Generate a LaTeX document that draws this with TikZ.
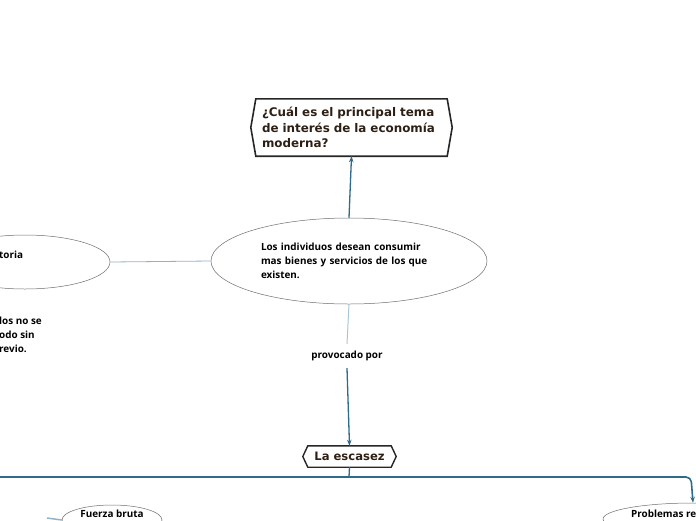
\documentclass[tikz,border=0pt]{standalone}
\usepackage{fontspec}
\usetikzlibrary{arrows.meta,shapes.geometric,calc}
\newfontfamily\headfont{DejaVu Sans}
\newfontfamily\bodyfont{Open Sans}
\definecolor{brownink}{HTML}{2E1F14}
\definecolor{linkblue}{HTML}{2E6A8A}
\definecolor{lightlink}{HTML}{8FB3CC}
\definecolor{fadelink}{HTML}{A9C6D6}
\definecolor{ellgray}{HTML}{6E6E6E}
\tikzset{
  x=1pt, y=-1pt,
  headbox/.style={inner xsep=6pt, inner ysep=3pt, align=left, text=brownink,
    font=\headfont\bfseries\fontsize{11.9}{15.5}\selectfont},
  hexline/.style={draw=black!85, line width=1.6pt, line join=miter},
  bubble/.style={ellipse, draw=ellgray, line width=0.5pt, fill=white, inner sep=0pt},
  bodytext/.style={font=\bodyfont\bfseries\fontsize{9.9}{14}\selectfont, text=black, align=left},
  mainlink/.style={draw=linkblue, line width=1.3pt},
  tip/.style={-{Stealth[length=6pt,width=4.5pt]}},
}
\begin{document}
\begin{tikzpicture}
\useasboundingbox (0,0) rectangle (696,520);
\clip (0,0) rectangle (696,520);
% top question box
\node[headbox, text width=179pt, minimum height=57pt] (q) at (351.5,127.5)
  {¿Cuál es el principal tema\\de interés de la economía\\moderna?};
\draw[hexline] (q.north west) -- (q.north east) -- ([xshift=5pt]q.east) -- (q.south east)
  -- (q.south west) -- ([xshift=-5pt]q.west) -- cycle;
% main ellipse
\node[bubble, minimum width=276pt, minimum height=86pt, bodytext, text width=176pt] (m) at (349,261)
  {Los individuos desean consumir\\mas bienes y servicios de los que\\existen.};
% left ellipse
\node[bubble, minimum width=170pt, minimum height=54pt] (l) at (25,262) {};
\node[bodytext, anchor=west, inner sep=0pt] (lt) at (-1,255) {toria};
% left text block
\node[bodytext, anchor=north west, inner sep=0pt, fill=white] (lb) at (-1,317)
  {los no se\\odo sin\\revio.};
% provocado por
\node[bodytext, fill=white, inner xsep=2pt, inner ysep=7pt] (p) at (347,356) {provocado por};
% la escasez
\node[headbox, font=\headfont\bfseries\fontsize{11.6}{13}\selectfont, minimum width=83pt, minimum height=21pt, inner ysep=1pt, align=center] (e) at (349.5,456.5) {La escasez};
\draw[hexline, line width=1.4pt] (e.north west) -- (e.north east) -- ([xshift=5pt]e.east) -- (e.south east)
  -- (e.south west) -- ([xshift=-5pt]e.west) -- cycle;
% bottom ellipses
\node[bubble, minimum width=100pt, minimum height=30pt] (f) at (112,520) {};
\node[bodytext, inner sep=0pt] (ft) at (112,514) {Fuerza bruta};
\node[bubble, minimum width=180pt, minimum height=32pt] (r) at (693,519) {};
\node[bodytext, anchor=west, inner sep=0pt] (rt) at (631,514) {Problemas re};
\coordinate (fl) at (47,518);
\coordinate (hl) at (-2,477);
\coordinate (hj) at (349,477);
% connectors
\draw[mainlink, tip] (m.north) -- (q.south);
\draw[draw=lightlink, line width=0.8pt] (m.west) -- (l.east);
\draw[draw=fadelink, line width=1pt] (m.south) -- (p.north);
\draw[mainlink, tip] (p.south) -- (e.north);
\draw[mainlink] (e.south) -- (hj);
\draw[mainlink, line width=1.6pt] (hl) -- (hj);
\draw[mainlink, line width=1.6pt, tip, rounded corners=5pt] (hj) -- (691,477) -- (r.north);
\draw[draw=lightlink, line width=1.5pt] (fl) -- (f.west);
\end{tikzpicture}
\end{document}
